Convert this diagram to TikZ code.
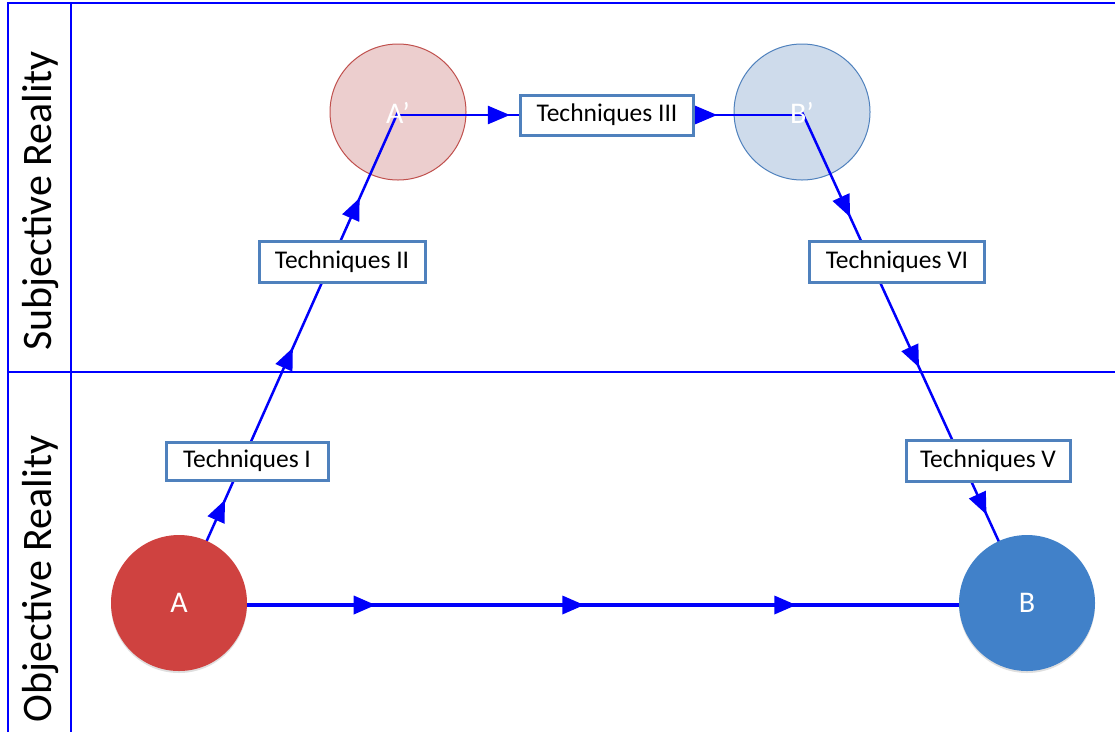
\documentclass[tikz,border=0pt]{standalone}
\usepackage{fontspec}
\setmainfont{Carlito}
\usetikzlibrary{arrows.meta,decorations.markings,shadows}

\definecolor{frameblue}{RGB}{0,0,255}
\definecolor{flowblue}{RGB}{0,0,250}
\definecolor{boxedge}{RGB}{79,129,189}
\definecolor{afill}{RGB}{207,66,64}
\definecolor{bfill}{RGB}{65,129,201}
\definecolor{apfill}{RGB}{236,206,206}
\definecolor{apedge}{RGB}{192,80,77}
\definecolor{bpfill}{RGB}{206,219,235}
\definecolor{bpedge}{RGB}{79,129,189}

\pgfdeclarelayer{discs}
\pgfdeclarelayer{flows}
\pgfsetlayers{discs,flows,main}

\tikzset{
  frameline/.style={draw=frameblue,line width=1.5pt},
  sidelabel/.style={rotate=90,font=\fontsize{42}{46}\selectfont,inner sep=0pt},
  state/.style={circle,minimum size=136pt,inner sep=0pt,text=white,
    font=\fontsize{30}{34}\selectfont},
  solid state/.style={state,drop shadow={opacity=0.25,shadow xshift=0pt,shadow yshift=-2pt}},
  ghost state/.style={state,line width=1pt},
  statelabel/.style={text=white,font=\fontsize{30}{34}\selectfont,inner sep=0pt},
  technique/.style={draw=boxedge,fill=white,line width=3pt,inner sep=0pt,
    font=\fontsize{25.5}{28}\selectfont,text=black},
  flow/.style={draw=flowblue,line width=2.5pt},
}
\newcommand{\flowtip}{\arrow{Triangle[length=22pt,width=18pt]}}

\begin{document}
\begin{tikzpicture}[x=1pt,y=-1pt]
\useasboundingbox (0,0) rectangle (1115,732);

% frame of the two swim lanes
\coordinate (ftl) at (8,3);
\coordinate (fbl) at (8,732);
\coordinate (fml) at (8,372);
\coordinate (ftr) at (1115,3);
\coordinate (fmr) at (1115,372);
\coordinate (ctop) at (71,3);
\coordinate (cbot) at (71,732);
\draw[frameline] (fbl) -- (ftl) -- (ftr);
\draw[frameline] (fml) -- (fmr);
\draw[frameline] (ctop) -- (cbot);

\node[sidelabel] (subj) at (41,201) {Subjective Reality};
\node[sidelabel] (obj) at (41,579) {Objective Reality};

% states
\begin{pgfonlayer}{discs}
  \node[ghost state,fill=apfill,draw=apedge] (Ap) at (398,112) {};
  \node[ghost state,fill=bpfill,draw=bpedge] (Bp) at (802,112) {};
\end{pgfonlayer}
\node[solid state,fill=afill] (A) at (179,603) {A};
\node[solid state,fill=bfill] (B) at (1027,603) {B};
\node[statelabel] (Aplabel) at (398,113) {A’};
\node[statelabel] (Bplabel) at (802,113) {B’};

% technique boxes
\node[technique,minimum width=162pt,minimum height=38pt] (T1) at (247,461) {Techniques I};
\node[technique,minimum width=166pt,minimum height=41pt] (T2) at (342,262) {Techniques II};
\node[technique,minimum width=173pt,minimum height=40pt] (T3) at (607,115) {Techniques III};
\node[technique,minimum width=175pt,minimum height=41pt] (T6) at (897,262) {Techniques VI};
\node[technique,minimum width=164pt,minimum height=41pt] (T5) at (988,461) {Techniques V};

% flows
\begin{pgfonlayer}{flows}
  \draw[flow,postaction={decorate},decoration={markings,
      mark=at position 0.21 with {\flowtip},
      mark=at position 0.52 with {\flowtip},
      mark=at position 0.825 with {\flowtip}}]
    (A.center) -- (Ap.center);
  \draw[flow,postaction={decorate},decoration={markings,
      mark=at position 0.277 with {\flowtip},
      mark=at position 0.79 with {\flowtip}}]
    ([yshift=-3pt]Ap.center) -- ([yshift=-3pt]Bp.center);
  \draw[flow,postaction={decorate},decoration={markings,
      mark=at position 0.214 with {\flowtip},
      mark=at position 0.52 with {\flowtip},
      mark=at position 0.82 with {\flowtip}}]
    (Bp.center) -- (B.center);
  \draw[flow,line width=3.5pt,postaction={decorate},decoration={markings,
      mark=at position 0.232 with {\flowtip},
      mark=at position 0.478 with {\flowtip},
      mark=at position 0.728 with {\flowtip}}]
    ([yshift=-2pt]A.center) -- ([yshift=-2pt]B.center);
\end{pgfonlayer}
\end{tikzpicture}
\end{document}
